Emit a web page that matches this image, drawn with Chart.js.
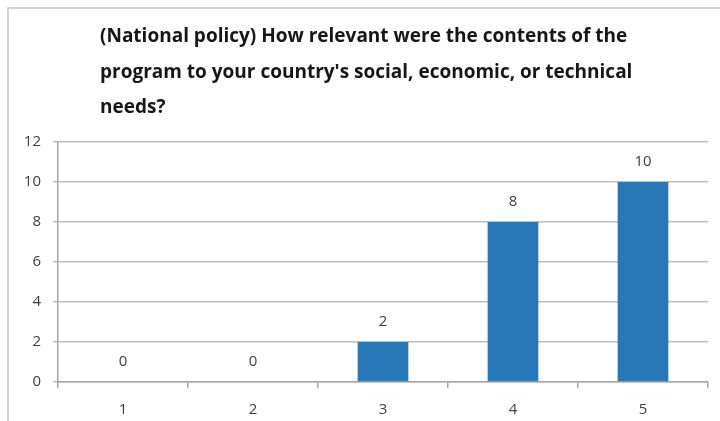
<!DOCTYPE html>
<html>
<head>
<meta charset="utf-8">
<script src="https://cdn.jsdelivr.net/npm/chart.js@4"></script>
<style>
  html, body { margin: 0; padding: 0; background: #fff; }
  #wrap { width: 720px; height: 421px; position: relative; }
</style>
</head>
<body>
<div id="wrap"><canvas id="c" width="720" height="421"></canvas></div>
<script>
// ---- data ----
const titleLines = [
  "(National policy) How relevant were the contents of the",
  "program to your country's social, economic, or technical",
  "needs?"
];
const categories = ["1", "2", "3", "4", "5"];
const counts = [0, 0, 2, 8, 10];
const yTicks = [0, 2, 4, 6, 8, 10, 12];

const FONT = '"Open Sans", "Noto Sans", sans-serif';

const framePlugin = {
  id: 'frame',
  beforeDraw(chart) {
    const ctx = chart.ctx;
    ctx.save();
    ctx.fillStyle = '#ffffff';
    ctx.fillRect(0, 0, chart.width, chart.height);
    ctx.strokeStyle = '#c4c4c4';
    ctx.lineWidth = 1.5;
    ctx.beginPath();
    ctx.moveTo(8, chart.height);
    ctx.lineTo(8, 8);
    ctx.lineTo(chart.width, 8);
    ctx.stroke();
    ctx.restore();
  }
};

const titlePlugin = {
  id: 'titleLines',
  afterDraw(chart) {
    const ctx = chart.ctx;
    ctx.save();
    ctx.font = 'bold 19px ' + FONT;
    ctx.fillStyle = '#161616';
    ctx.textAlign = 'left';
    ctx.textBaseline = 'alphabetic';
    const baselines = [42, 78, 113];
    titleLines.forEach((t, i) => ctx.fillText(t, 100, baselines[i]));
    ctx.restore();
  }
};

const valueLabelPlugin = {
  id: 'valueLabels',
  afterDatasetsDraw(chart) {
    const ctx = chart.ctx;
    const meta = chart.getDatasetMeta(0);
    ctx.save();
    ctx.font = '15px ' + FONT;
    ctx.fillStyle = '#404040';
    ctx.textAlign = 'center';
    ctx.textBaseline = 'middle';
    meta.data.forEach((bar, i) => {
      ctx.fillText(String(chart.data.datasets[0].data[i]), bar.x, bar.y - 20);
    });
    ctx.restore();
  }
};

new Chart(document.getElementById('c'), {
  type: 'bar',
  data: {
    labels: categories,
    datasets: [{
      data: counts,
      backgroundColor: '#2878b8',
      borderWidth: 0,
      barPercentage: 0.39,
      categoryPercentage: 1.0
    }]
  },
  options: {
    responsive: false,
    animation: false,
    devicePixelRatio: 1,
    layout: { padding: { top: 142, right: 12, bottom: 0, left: 0 } },
    plugins: {
      legend: { display: false },
      title: { display: false },
      tooltip: { enabled: false }
    },
    scales: {
      x: {
        grid: {
          offset: true,
          drawOnChartArea: false,
          drawTicks: true,
          tickLength: 6,
          color: '#a6a6a6',
          lineWidth: 1.5
        },
        border: { color: '#a6a6a6', width: 1.5 },
        ticks: { color: '#404040', font: { size: 15, family: FONT }, padding: 13 },
        afterFit(scale) { scale.height = 39; }
      },
      y: {
        min: 0, max: 12,
        afterBuildTicks(scale) { scale.ticks = yTicks.map(v => ({ value: v })); },
        grid: { color: '#bdbdbd', lineWidth: 1.5, tickLength: 5, drawTicks: true },
        border: { color: '#a6a6a6', width: 1.5 },
        ticks: { color: '#404040', font: { size: 15, family: FONT }, padding: 12 },
        afterFit(scale) { scale.width = 58; }
      }
    }
  },
  plugins: [framePlugin, titlePlugin, valueLabelPlugin]
});
</script>
</body>
</html>
